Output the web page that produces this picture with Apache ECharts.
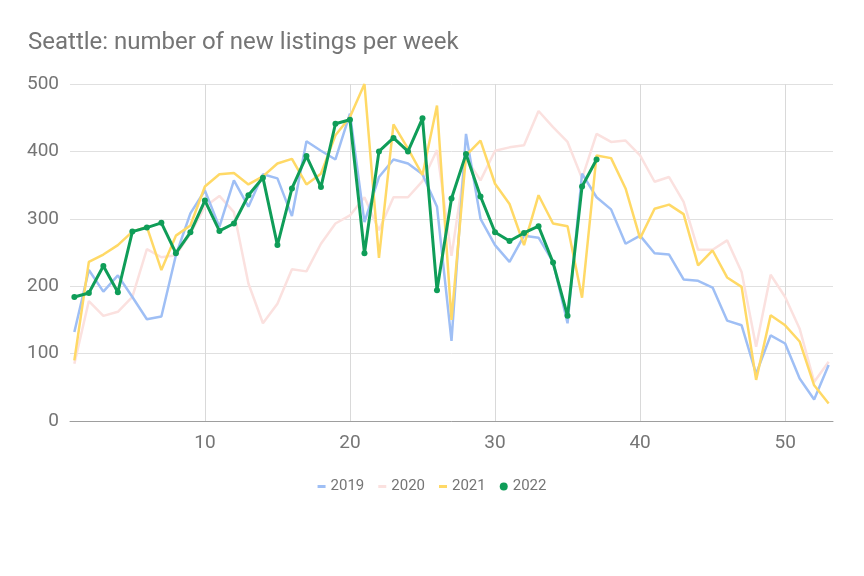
<!DOCTYPE html>
<html>
<head>
<meta charset="utf-8">
<script src="https://cdn.jsdelivr.net/npm/echarts@6/dist/echarts.min.js"></script>
<style>
html, body { margin: 0; padding: 0; background: #ffffff; }
#chart { width: 864px; height: 576px; }
</style>
</head>
<body>
<div id="chart"></div>
<script>
const weeks = Array.from({ length: 53 }, (_, i) => i + 1);
const xTicks = [10, 20, 30, 40, 50];
const yTicks = [0, 100, 200, 300, 400, 500];

const s2019 = [132, 224, 192, 216, 184, 151, 155, 246, 308, 342, 288, 357, 318, 366, 360, 304, 415, 401, 388, 456, 295, 362, 388, 382, 366, 318, 119, 426, 300, 261, 236, 275, 272, 236, 145, 367, 332, 314, 263, 275, 249, 247, 210, 208, 198, 149, 142, 70, 127, 115, 63, 32, 83];
const s2020 = [85, 178, 156, 162, 184, 255, 243, 246, 278, 318, 334, 310, 204, 145, 174, 225, 222, 263, 293, 305, 332, 283, 332, 332, 356, 402, 245, 390, 357, 401, 406, 409, 460, 436, 414, 360, 426, 414, 416, 394, 355, 362, 325, 254, 254, 268, 221, 110, 217, 184, 137, 58, 88];
const s2021 = [90, 236, 247, 261, 281, 288, 224, 275, 290, 348, 366, 368, 351, 363, 382, 389, 351, 367, 424, 451, 500, 242, 440, 404, 365, 468, 150, 394, 416, 352, 322, 261, 335, 293, 289, 183, 394, 390, 345, 271, 315, 321, 307, 231, 253, 213, 199, 61, 157, 142, 118, 53, 26];
const s2022 = [184, 190, 230, 191, 281, 287, 294, 249, 280, 327, 282, 293, 335, 361, 261, 345, 393, 347, 441, 447, 249, 400, 420, 400, 449, 194, 330, 396, 333, 280, 267, 279, 289, 235, 156, 348, 388];

const names = ['2019', '2020', '2021', '2022'];
const colors = ['#9fbff5', '#fbe1df', '#ffd966', '#0f9d58'];

const pair = arr => arr.map((v, i) => [weeks[i], v]);

const chart = echarts.init(document.getElementById('chart'), null, { renderer: 'canvas' });
const font = 'Roboto, "Noto Sans", sans-serif';

const bgSeries = (idx, data, z) => ({
  name: names[idx],
  type: 'line',
  data: pair(data),
  symbol: 'none',
  showSymbol: false,
  z: z,
  lineStyle: { color: colors[idx], width: 2.5 },
  itemStyle: { color: colors[idx] },
  emphasis: { disabled: true },
  animation: false
});

chart.setOption({
  animation: false,
  backgroundColor: '#ffffff',
  title: {
    text: 'Seattle: number of new listings per week',
    left: 23,
    top: 26,
    textStyle: { fontFamily: font, fontSize: 24, fontWeight: 'normal', color: '#757575' }
  },
  legend: {
    top: 474,
    left: 'center',
    itemWidth: 8,
    itemHeight: 8,
    itemGap: 14,
    symbolKeepAspect: true,
    textStyle: { fontFamily: font, fontSize: 15, color: '#757575' },
    data: [
      { name: '2019', icon: 'path://M0,0h8v3h-8z' },
      { name: '2020', icon: 'path://M0,0h8v3h-8z' },
      { name: '2021', icon: 'path://M0,0h8v3h-8z' },
      { name: '2022', icon: 'circle' }
    ]
  },
  grid: { left: 70, right: 31, top: 84, bottom: 155, containLabel: false },
  xAxis: {
    type: 'value',
    min: 0.7,
    max: 53.3,
    axisLine: { show: true, onZero: true, lineStyle: { color: '#9e9e9e', width: 1 } },
    axisTick: { show: false, customValues: xTicks },
    axisLabel: {
      customValues: xTicks,
      color: '#757575',
      fontFamily: font,
      fontSize: 19,
      margin: 13
    },
    splitLine: { show: true, lineStyle: { color: '#d9d9d9', width: 1 } }
  },
  yAxis: {
    type: 'value',
    min: 0,
    max: 500,
    interval: 100,
    axisLine: { show: false },
    axisTick: { show: false },
    axisLabel: {
      color: '#757575',
      fontFamily: font,
      fontSize: 19,
      margin: 11
    },
    splitLine: { show: true, lineStyle: { color: '#e0e0e0', width: 1 } }
  },
  series: [
    bgSeries(1, s2020, 2),
    bgSeries(0, s2019, 3),
    bgSeries(2, s2021, 4),
    {
      name: '2022',
      type: 'line',
      data: pair(s2022),
      symbol: 'circle',
      symbolSize: 6,
      showSymbol: true,
      z: 5,
      lineStyle: { color: colors[3], width: 3 },
      itemStyle: { color: colors[3] },
      emphasis: { disabled: true }
    }
  ]
});
</script>
</body>
</html>
